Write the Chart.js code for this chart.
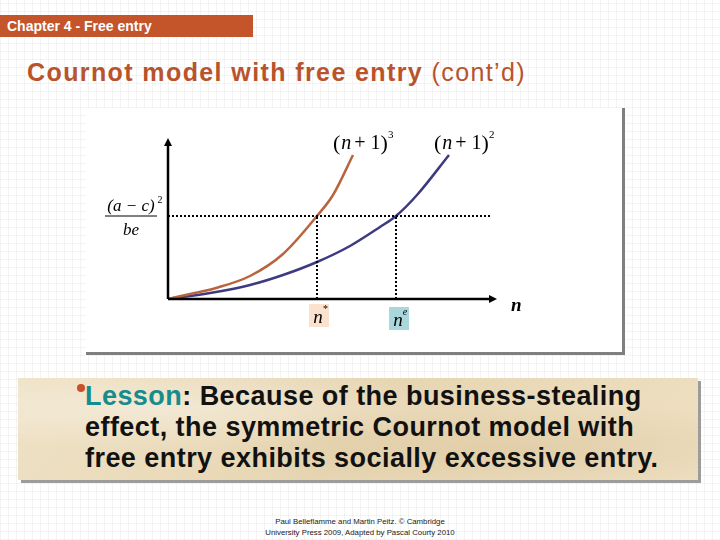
<!DOCTYPE html>
<html>
<head>
<meta charset="utf-8">
<script src="https://cdn.jsdelivr.net/npm/chart.js@4.4.1/dist/chart.umd.min.js"></script>
<style>
  html, body { margin: 0; padding: 0; }
  body {
    width: 720px; height: 540px; position: relative; overflow: hidden;
    font-family: "Liberation Sans", Arial, sans-serif;
    background-color: #fff;
    background-image:
      repeating-linear-gradient(0deg, rgba(0,0,0,0.045) 0 1px, transparent 1px 8px),
      repeating-linear-gradient(90deg, rgba(0,0,0,0.045) 0 1px, transparent 1px 8px);
  }
  .header {
    position: absolute; left: 0; top: 15px; width: 253px; height: 22px;
    background: #c4552b; color: #fff; font-weight: bold; font-size: 14px;
    line-height: 22px; padding-left: 7px; box-sizing: border-box; white-space: nowrap;
  }
  .title {
    position: absolute; left: 27px; top: 58px; font-size: 25px; color: #b9532c;
    font-weight: bold; white-space: nowrap; letter-spacing: 1.4px;
  }
  .title span { font-weight: normal; }
  .panel {
    position: absolute; left: 86px; top: 108px; width: 536px; height: 244px;
    background: #fff; border-right: 3px solid #7f7f7f; border-bottom: 3px solid #7f7f7f;
  }
  .lesson {
    position: absolute; left: 18px; top: 378px; width: 680px; height: 102px;
    background:
      radial-gradient(ellipse at 20% 30%, rgba(255,255,255,0.35), transparent 40%),
      radial-gradient(ellipse at 75% 70%, rgba(200,170,120,0.25), transparent 45%),
      linear-gradient(135deg, #efe2c6, #e7d6b3 50%, #eee0c2);
    box-shadow: 3px 3px 0 #9c9c9c;
  }
  .lesson p {
    margin: 0; position: absolute; left: 67px; top: 3px; font-size: 27px; font-weight: bold;
    line-height: 31px; color: #111; white-space: nowrap; letter-spacing: 0.45px;
  }
  .lesson .bullet {
    position: absolute; left: 59px; top: 6px; width: 8px; height: 8px; border-radius: 50%;
    background: #c8502a;
  }
  .lesson .teal { color: #168c8c; }
  .footer {
    position: absolute; left: 0; width: 720px; top: 516px; text-align: center;
    font-size: 7.8px; line-height: 11px; color: #222;
  }
</style>
</head>
<body>
<div class="header">Chapter 4 - Free entry</div>
<div class="title">Cournot model with free entry <span>(cont’d)</span></div>
<div class="panel"><canvas id="cournotChart" width="536" height="244"></canvas></div>
<div class="lesson">
  <div class="bullet"></div>
  <p><span class="teal">Lesson</span>: Because of the business-stealing<br>effect, the symmetric Cournot model with<br>free entry exhibits socially excessive entry.</p>
</div>
<div class="footer">Paul Belleflamme and Martin Peitz. © Cambridge<br>University Press 2009, Adapted by Pascal Courty 2010</div>

<script>
// curve (n+1)^3 : social optimum side
const cubeN = [0, 22, 48, 82, 115, 149, 165, 185];
const cubeY = [0, 5, 11, 23, 45, 83, 104, 144];
// curve (n+1)^2 : free entry side
const squareN = [0, 48, 82, 115, 149, 182, 212, 228, 249, 281];
const squareY = [0, 7, 14, 24, 37, 53, 72, 83, 104, 144];

const threshold = 83;      // (a-c)^2 / be
const nStar = 149;
const nEntry = 228;
const thresholdEnd = 322;
const xMax = 329;
const yMax = 161;

const toPoints = (xs, ys) => xs.map((x, i) => ({ x: x, y: ys[i] }));

const dotted = { borderColor: '#000', borderWidth: 2, borderDash: [2, 2], pointRadius: 0, fill: false, tension: 0 };

const axesAndLabels = {
  id: 'axesAndLabels',
  afterDatasetsDraw(chart) {
    const ctx = chart.ctx;
    const xs = chart.scales.x, ys = chart.scales.y;
    const px = v => xs.getPixelForValue(v);
    const py = v => ys.getPixelForValue(v);
    const x0 = px(0), y0 = py(0);

    ctx.save();
    ctx.strokeStyle = '#000';
    ctx.fillStyle = '#000';
    ctx.lineWidth = 2.5;
    // y axis
    ctx.beginPath(); ctx.moveTo(x0, y0); ctx.lineTo(x0, py(yMax) + 6); ctx.stroke();
    ctx.beginPath(); ctx.moveTo(x0, py(yMax)); ctx.lineTo(x0 - 4, py(yMax) + 8); ctx.lineTo(x0 + 4, py(yMax) + 8); ctx.closePath(); ctx.fill();
    // x axis
    ctx.beginPath(); ctx.moveTo(x0, y0); ctx.lineTo(px(xMax) - 6, y0); ctx.stroke();
    ctx.beginPath(); ctx.moveTo(px(xMax), y0); ctx.lineTo(px(xMax) - 8, y0 - 4); ctx.lineTo(px(xMax) - 8, y0 + 4); ctx.closePath(); ctx.fill();

    // curve labels
    const curveLabel = (x, y, exp) => {
      ctx.font = '22px "Liberation Serif"';
      ctx.textAlign = 'left'; ctx.textBaseline = 'alphabetic';
      let cx = x;
      ctx.fillText('(', cx, y + 1); cx += ctx.measureText('(').width + 1;
      ctx.font = 'italic 20px "Liberation Serif"';
      ctx.fillText('n', cx, y); cx += ctx.measureText('n').width + 3;
      ctx.font = '20px "Liberation Serif"';
      ctx.fillText('+ 1', cx, y); cx += ctx.measureText('+ 1').width;
      ctx.font = '22px "Liberation Serif"';
      ctx.fillText(')', cx, y + 1); cx += ctx.measureText(')').width;
      ctx.font = '11px "Liberation Serif"';
      ctx.fillText(exp, cx, y - 11);
    };
    curveLabel(px(cubeN[cubeN.length - 1]) - 20, py(cubeY[cubeY.length - 1]) - 6, '3');
    curveLabel(px(squareN[squareN.length - 1]) - 15, py(squareY[squareY.length - 1]) - 6, '2');

    // threshold fraction
    const fx = x0 - 37, fy = py(threshold);
    ctx.textAlign = 'center';
    ctx.font = 'italic 17px "Liberation Serif"';
    ctx.fillText('(a \u2212 c)', fx, fy - 5);
    ctx.font = '10px "Liberation Serif"';
    ctx.fillText('2', fx + 29, fy - 13);
    ctx.lineWidth = 1;
    ctx.beginPath(); ctx.moveTo(fx - 26, fy); ctx.lineTo(fx + 26, fy); ctx.stroke();
    ctx.font = 'italic 17px "Liberation Serif"';
    ctx.fillText('be', fx, fy + 19);

    // n* and ne marks
    const tag = (x, top, bg, sup) => {
      ctx.fillStyle = bg;
      ctx.fillRect(x - 10, top, 20, 23);
      ctx.fillStyle = '#000';
      ctx.font = 'italic 19px "Liberation Serif"';
      ctx.textAlign = 'center';
      ctx.fillText('n', x - 1, top + 19);
      ctx.font = 'italic 10px "Liberation Serif"';
      ctx.fillText(sup, x + 6, top + 8);
    };
    tag(px(nStar) + 2, y0 + 5, '#fbe2cf', '*');
    tag(px(nEntry) + 3, y0 + 8, '#a9d7db', 'e');

    // axis name
    ctx.font = 'bold italic 19px "Liberation Serif"';
    ctx.textAlign = 'left';
    ctx.fillText('n', px(xMax) + 14, y0 + 12);
    ctx.restore();
  }
};

new Chart(document.getElementById('cournotChart').getContext('2d'), {
  type: 'line',
  data: {
    datasets: [
      Object.assign({ data: [{ x: 0, y: threshold }, { x: thresholdEnd, y: threshold }] }, dotted),
      Object.assign({ data: [{ x: nStar, y: 0 }, { x: nStar, y: threshold }] }, dotted),
      Object.assign({ data: [{ x: nEntry, y: 0 }, { x: nEntry, y: threshold }] }, dotted),
      {
        label: '(n+1)^3',
        data: toPoints(cubeN, cubeY),
        borderColor: '#b8653d', borderWidth: 2.5, pointRadius: 0,
        cubicInterpolationMode: 'monotone', fill: false
      },
      {
        label: '(n+1)^2',
        data: toPoints(squareN, squareY),
        borderColor: '#3d3b80', borderWidth: 2.5, pointRadius: 0,
        cubicInterpolationMode: 'monotone', fill: false
      }
    ]
  },
  options: {
    responsive: false,
    animation: false,
    layout: { padding: { left: 82, right: 125, top: 30, bottom: 53 } },
    plugins: { legend: { display: false }, tooltip: { enabled: false } },
    scales: {
      x: { type: 'linear', min: 0, max: xMax, display: false },
      y: { type: 'linear', min: 0, max: yMax, display: false }
    }
  },
  plugins: [axesAndLabels]
});
</script>
</body>
</html>
